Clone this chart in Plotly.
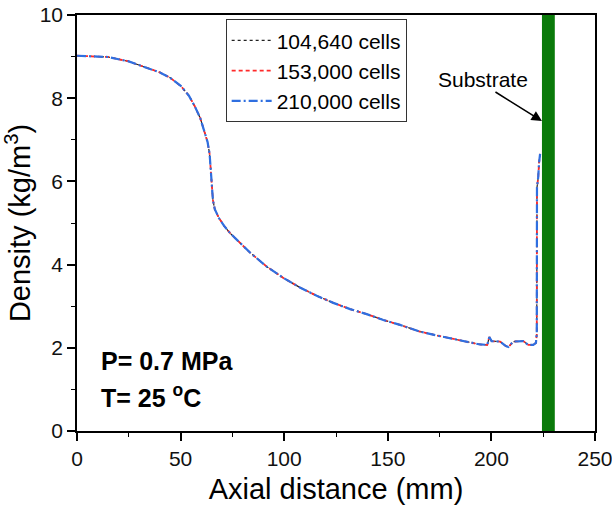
import plotly.graph_objects as go

# Axial distance (mm)
axial_mm = [0, 8, 15, 24.6, 34.3, 40, 45, 50.2, 54, 56.8, 59.5, 61.6, 63.0, 64.0, 64.8, 65.6,
            66.5, 68.5, 71.0, 74.0, 77.7, 83.5, 91.6, 99.6, 107.6, 115.7, 123.7,
            131.8, 139.8, 147.8, 155.9, 165.5, 175.2, 184.8, 194.5, 198.0, 199.0, 200.1,
            204.2, 207.0, 208.2, 210.6, 215.4, 217.8, 220.2, 221.5, 221.9, 222.0, 222.6,
            223.0, 223.5]

# Density (kg/m3) for each mesh
density_104640 = [9.02, 9.01, 8.99, 8.89, 8.73, 8.62, 8.49, 8.29, 8.06, 7.81, 7.52, 7.21, 6.95, 6.66, 6.01, 5.55,
                  5.33, 5.12, 4.93, 4.75, 4.57, 4.29, 3.95, 3.68, 3.45, 3.25, 3.08,
                  2.93, 2.81, 2.67, 2.55, 2.39, 2.28, 2.18, 2.08, 2.07, 2.26, 2.16,
                  2.15, 2.04, 2.02, 2.15, 2.16, 2.07, 2.07, 2.12, 2.33, 5.85, 6.10,
                  6.45, 6.66]
density_153000 = [9.02, 9.01, 8.99, 8.89, 8.73, 8.62, 8.49, 8.29, 8.06, 7.81, 7.52, 7.21, 6.95, 6.66, 6.01, 5.55,
                  5.33, 5.12, 4.93, 4.75, 4.57, 4.29, 3.95, 3.68, 3.45, 3.25, 3.08,
                  2.93, 2.81, 2.67, 2.55, 2.39, 2.28, 2.18, 2.08, 2.07, 2.26, 2.16,
                  2.15, 2.04, 2.02, 2.15, 2.16, 2.07, 2.07, 2.12, 2.33, 5.85, 6.10,
                  6.45, 6.66]
density_210000 = [9.02, 9.01, 8.99, 8.89, 8.73, 8.62, 8.49, 8.29, 8.06, 7.81, 7.52, 7.21, 6.95, 6.66, 6.01, 5.55,
                  5.33, 5.12, 4.93, 4.75, 4.57, 4.29, 3.95, 3.68, 3.45, 3.25, 3.08,
                  2.93, 2.81, 2.67, 2.55, 2.39, 2.28, 2.18, 2.08, 2.07, 2.26, 2.16,
                  2.15, 2.04, 2.02, 2.15, 2.16, 2.07, 2.07, 2.12, 2.33, 5.85, 6.10,
                  6.45, 6.66]

series_names = ["104,640 cells", "153,000 cells", "210,000 cells"]
substrate_range = [224.4, 230.6]

x_ticks = [0, 50, 100, 150, 200, 250]
y_ticks = [0, 2, 4, 6, 8, 10]

FONT = "Liberation Sans, Arial, sans-serif"

fig = go.Figure()

fig.add_trace(go.Scatter(x=axial_mm, y=density_104640, mode="lines", name=series_names[0],
                         line=dict(color="#222222", width=1.2, dash="dot")))
fig.add_trace(go.Scatter(x=axial_mm, y=density_153000, mode="lines", name=series_names[1],
                         line=dict(color="#ff2a2a", width=1.8, dash="4px,3px")))
fig.add_trace(go.Scatter(x=axial_mm, y=density_210000, mode="lines", name=series_names[2],
                         line=dict(color="#2f6fe0", width=2.2, dash="9px,3px,2px,3px")))

# Substrate band
fig.add_shape(type="rect", xref="x", yref="paper", x0=substrate_range[0], x1=substrate_range[1],
              y0=0, y1=1, fillcolor="#0a7a0a", line=dict(width=0), layer="above")

# Labels
fig.add_annotation(x=0.042, y=0.168, xref="paper", yref="paper", text="<b>P= 0.7 MPa</b>",
                   showarrow=False, xanchor="left", yanchor="middle",
                   font=dict(family=FONT, size=25, color="black"))
fig.add_annotation(x=0.042, y=0.084, xref="paper", yref="paper", text="<b>T= 25 <sup>o</sup>C</b>",
                   showarrow=False, xanchor="left", yanchor="middle",
                   font=dict(family=FONT, size=25, color="black"))
fig.add_annotation(x=195.8, y=8.46, xref="x", yref="y", text="Substrate",
                   showarrow=False, xanchor="center", yanchor="middle",
                   font=dict(family=FONT, size=21, color="black"))
fig.add_annotation(x=substrate_range[0], y=7.45, xref="x", yref="y", text="",
                   showarrow=True, arrowhead=2, arrowsize=1.3, arrowwidth=1.6,
                   arrowcolor="black", ax=-48, ay=-30)

axis_common = dict(showline=True, linecolor="black", linewidth=1.5, mirror=True,
                   ticks="outside", ticklen=8, tickwidth=1.5, tickcolor="black",
                   showgrid=False, zeroline=False, automargin=False,
                   ticklabeloverflow="allow",
                   tickfont=dict(family=FONT, size=21, color="#111111"),
                   minor=dict(ticks="outside", ticklen=4, tickwidth=1.2, tickcolor="black"))

fig.update_xaxes(range=[0, 250], tickvals=x_ticks,
                 title=dict(text="Axial distance (mm)", font=dict(family=FONT, size=29, color="black"),
                            standoff=10),
                 **axis_common)
fig.update_yaxes(range=[0, 10], tickvals=y_ticks,
                 title=dict(text="Density (kg/m<sup>3</sup>)", font=dict(family=FONT, size=29, color="black"),
                            standoff=4),
                 **axis_common)
fig.update_xaxes(minor=dict(tickvals=[25, 75, 125, 175, 225]))
fig.update_yaxes(minor=dict(tickvals=[1, 3, 5, 7, 9]))

fig.update_layout(
    width=612, height=506,
    margin=dict(l=77, r=17, t=15, b=75, autoexpand=False),
    paper_bgcolor="white", plot_bgcolor="white",
    font=dict(family=FONT, color="black"),
    legend=dict(x=0.287, y=0.99, xanchor="left", yanchor="top",
                bgcolor="white", bordercolor="#333333", borderwidth=1,
                font=dict(family=FONT, size=21, color="black"),
                tracegroupgap=0, itemwidth=40),
    showlegend=True,
)

fig.write_html("out.html",
               config={"displayModeBar": False},
               post_script="document.body.style.margin='0';document.body.style.overflow='hidden';")
